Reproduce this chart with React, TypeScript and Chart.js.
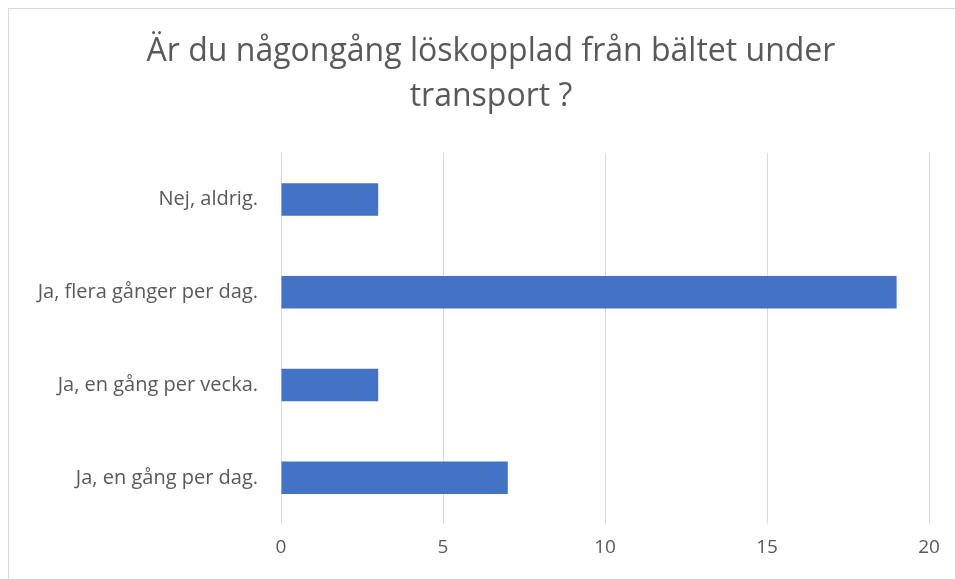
import React, { useEffect, useRef } from "react";
import { Chart, registerables } from "chart.js";

Chart.register(...registerables);

const titleLines = ["Är du någongång löskopplad från bältet under", "transport ?"];
const categories = [
  "Nej, aldrig.",
  "Ja, flera gånger per dag.",
  "Ja, en gång per vecka.",
  "Ja, en gång per dag.",
];
const values = [3, 19, 3, 7];
const xMin = 0;
const xMax = 20;
const xStep = 5;

const centeredTitle = {
  id: "centeredTitle",
  afterDraw(chart: any) {
    const ctx = chart.ctx;
    ctx.save();
    ctx.fillStyle = "#595959";
    ctx.font = "32px 'Open Sans'";
    ctx.textAlign = "center";
    ctx.textBaseline = "middle";
    const cx = chart.width / 2;
    const lineGap = 45;
    titleLines.forEach((line, i) => {
      ctx.fillText(line, cx, 43 + i * lineGap);
    });
    ctx.restore();
  },
};

export default function App() {
  const ref = useRef<HTMLCanvasElement | null>(null);
  useEffect(() => {
    if (!ref.current) return;
    const chart = new Chart(ref.current, {
      type: "bar",
      data: {
        labels: categories,
        datasets: [
          {
            data: values,
            backgroundColor: "#4472C4",
            borderWidth: 0,
            barPercentage: 0.7,
            categoryPercentage: 0.5,
          },
        ],
      },
      plugins: [centeredTitle],
      options: {
        indexAxis: "y",
        animation: false,
        responsive: false,
        layout: { padding: { left: 0, right: 44, top: 144, bottom: 8 } },
        plugins: {
          legend: { display: false },
          tooltip: { enabled: false },
          title: { display: false },
        },
        scales: {
          x: {
            min: xMin,
            max: xMax,
            ticks: {
              stepSize: xStep,
              color: "#595959",
              font: { family: "Open Sans", size: 19 },
              padding: 12,
            },
            grid: { color: "#d9d9d9", drawTicks: false },
            border: { display: false },
          },
          y: {
            ticks: {
              color: "#595959",
              font: { family: "Open Sans", size: 20 },
              padding: 23,
            },
            grid: { display: false, drawTicks: false },
            border: { display: false },
            afterFit: (scale: any) => {
              scale.width = 272;
            },
          },
        },
      },
    });
    return () => chart.destroy();
  }, []);
  return (
    <div
      style={{
        position: "fixed",
        left: 8,
        top: 8,
        width: 947,
        height: 571,
        overflow: "hidden",
      }}
    >
      <div
        style={{
          width: 964,
          height: 570,
          borderTop: "1px solid #d9d9d9",
          borderLeft: "1px solid #d9d9d9",
        }}
      >
        <canvas ref={ref} width={964} height={570} style={{ display: "block" }} />
      </div>
    </div>
  );
}
